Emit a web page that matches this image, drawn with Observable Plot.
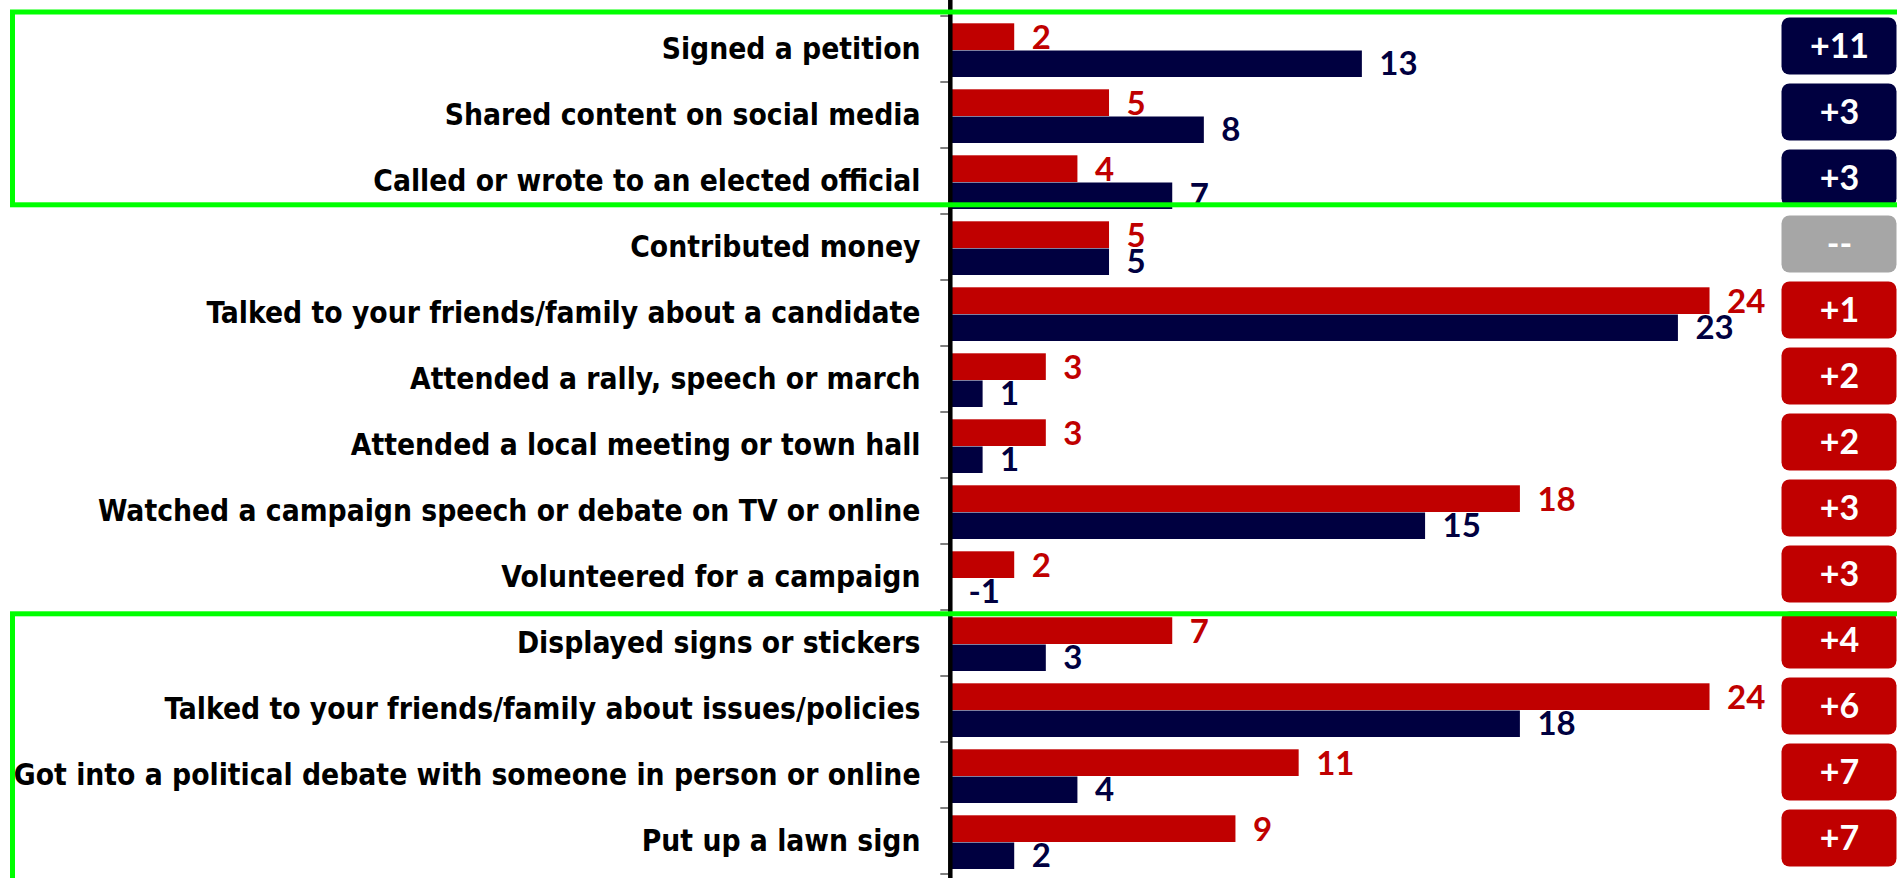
<!DOCTYPE html>
<html><head><meta charset="utf-8">
<script src="https://cdn.jsdelivr.net/npm/d3@7"></script>
<script src="https://cdn.jsdelivr.net/npm/@observablehq/plot@0.6"></script>
<style>
html,body{margin:0;padding:0;background:#fff;}
#chart svg{display:block;}
</style></head><body><div id="chart"></div>
<script>
const categories = [
  "Signed a petition",
  "Shared content on social media",
  "Called or wrote to an elected official",
  "Contributed money",
  "Talked to your friends/family about a candidate",
  "Attended a rally, speech or march",
  "Attended a local meeting or town hall",
  "Watched a campaign speech or debate on TV or online",
  "Volunteered for a campaign",
  "Displayed signs or stickers",
  "Talked to your friends/family about issues/policies",
  "Got into a political debate with someone in person or online",
  "Put up a lawn sign"
];
const redValues  = [2, 5, 4, 5, 24, 3, 3, 18, 2, 7, 24, 11, 9];
const blueValues = [13, 8, 7, 5, 23, 1, 1, 15, -1, 3, 18, 4, 2];
const groupFirst = ["Signed a petition", "Displayed signs or stickers"];
const groupLast  = ["Called or wrote to an elected official", "Put up a lawn sign"];

const RED = "#c00000", NAVY = "#000040", GREY = "#a6a6a6", GREEN = "#00ff00";
const W = 1897, H = 878;

const rows = categories.map((c, i) => ({
  category: c, red: redValues[i], blue: blueValues[i], diff: redValues[i] - blueValues[i]
}));
const badgeColor = d => d.diff > 0 ? RED : d.diff < 0 ? NAVY : GREY;
const badgeText = d => d.diff === 0 ? "--" : "+" + Math.abs(d.diff);

const valueFont = {fontFamily: "Lato, 'Open Sans', sans-serif", fontSize: 33, fontWeight: "bold"};

function bandwidthOf(y) { return typeof y.bandwidth === "function" ? y.bandwidth() : y.bandwidth; }

function badgeBackgrounds(index, scales, values, dimensions) {
  const y = scales.y, bw = bandwidthOf(y);
  const g = d3.create("svg:g");
  const right = dimensions.width - 0.5, bwid = 115, bh = 57;
  g.selectAll("rect").data(rows).join("rect")
    .attr("x", right - bwid).attr("width", bwid)
    .attr("y", d => y(d.category) + bw / 2 - 3 - bh / 2).attr("height", bh)
    .attr("rx", 8).attr("ry", 8)
    .attr("fill", badgeColor);
  return g.node();
}

function axisAndTicks(index, scales, values, dimensions) {
  const y = scales.y, x = scales.x, bw = bandwidthOf(y);
  const g = d3.create("svg:g");
  const x0 = x(0) - 0.7;
  const bounds = categories.map(c => y(c)).concat([y(categories[categories.length - 1]) + bw]);
  g.selectAll("line.tick").data(bounds).join("line")
    .attr("x1", x0 - 10).attr("x2", x0).attr("y1", d => d).attr("y2", d => d)
    .attr("stroke", "#7f7f7f").attr("stroke-width", 2);
  g.append("line").attr("x1", x0).attr("x2", x0).attr("y1", 0).attr("y2", dimensions.height)
    .attr("stroke", "#000").attr("stroke-width", 4.5);
  return g.node();
}

function groupBoxes(index, scales, values, dimensions) {
  const y = scales.y, bw = bandwidthOf(y);
  const g = d3.create("svg:g");
  const boxes = [
    {top: y(groupFirst[0]) - 4, bottom: y(groupLast[0]) + bw - 9.2},
    {top: y(groupFirst[1]) + 3.8, bottom: dimensions.height + 10}
  ];
  g.selectAll("rect").data(boxes).join("rect")
    .attr("x", 12.5).attr("width", dimensions.width + 20)
    .attr("y", d => d.top).attr("height", d => d.bottom - d.top)
    .attr("fill", "none").attr("stroke", GREEN).attr("stroke-width", 5);
  return g.node();
}

const plot = Plot.plot({
  width: W, height: H,
  marginLeft: 951, marginRight: 1, marginTop: 12, marginBottom: 1,
  x: {domain: [0, 29.9], axis: null},
  y: {domain: categories, padding: 0, tickSize: 0, tickPadding: 31, label: null},
  style: {
    fontFamily: "'Liberation Sans Narrow', 'Arial Narrow', 'DejaVu Sans Condensed', sans-serif",
    fontSize: "29.7px", fontWeight: "bold", color: "#000", background: "#fff"
  },
  marks: [
    Plot.barX(rows, {y: "category", x: "red", fill: RED, insetTop: 7.3, insetBottom: 32, clip: true}),
    Plot.barX(rows, {y: "category", x: "blue", fill: NAVY, insetTop: 34.5, insetBottom: 5, clip: true}),
    Plot.text(rows, {y: "category", x: d => Math.max(0, d.red), text: d => String(d.red),
      dx: 17, dy: -11, textAnchor: "start", fill: RED, ...valueFont}),
    Plot.text(rows, {y: "category", x: d => Math.max(0, d.blue), text: d => String(d.blue),
      dx: 17, dy: 15, textAnchor: "start", fill: NAVY, ...valueFont}),
    axisAndTicks,
    badgeBackgrounds,
    Plot.text(rows, {y: "category", frameAnchor: "right", dx: -57, dy: -2, text: badgeText,
      textAnchor: "middle", fill: "#fff", fontFamily: "Lato, 'Open Sans', sans-serif",
      fontSize: 34, fontWeight: "bold"}),
    groupBoxes
  ]
});
document.getElementById("chart").appendChild(plot);
</script>
</body></html>
